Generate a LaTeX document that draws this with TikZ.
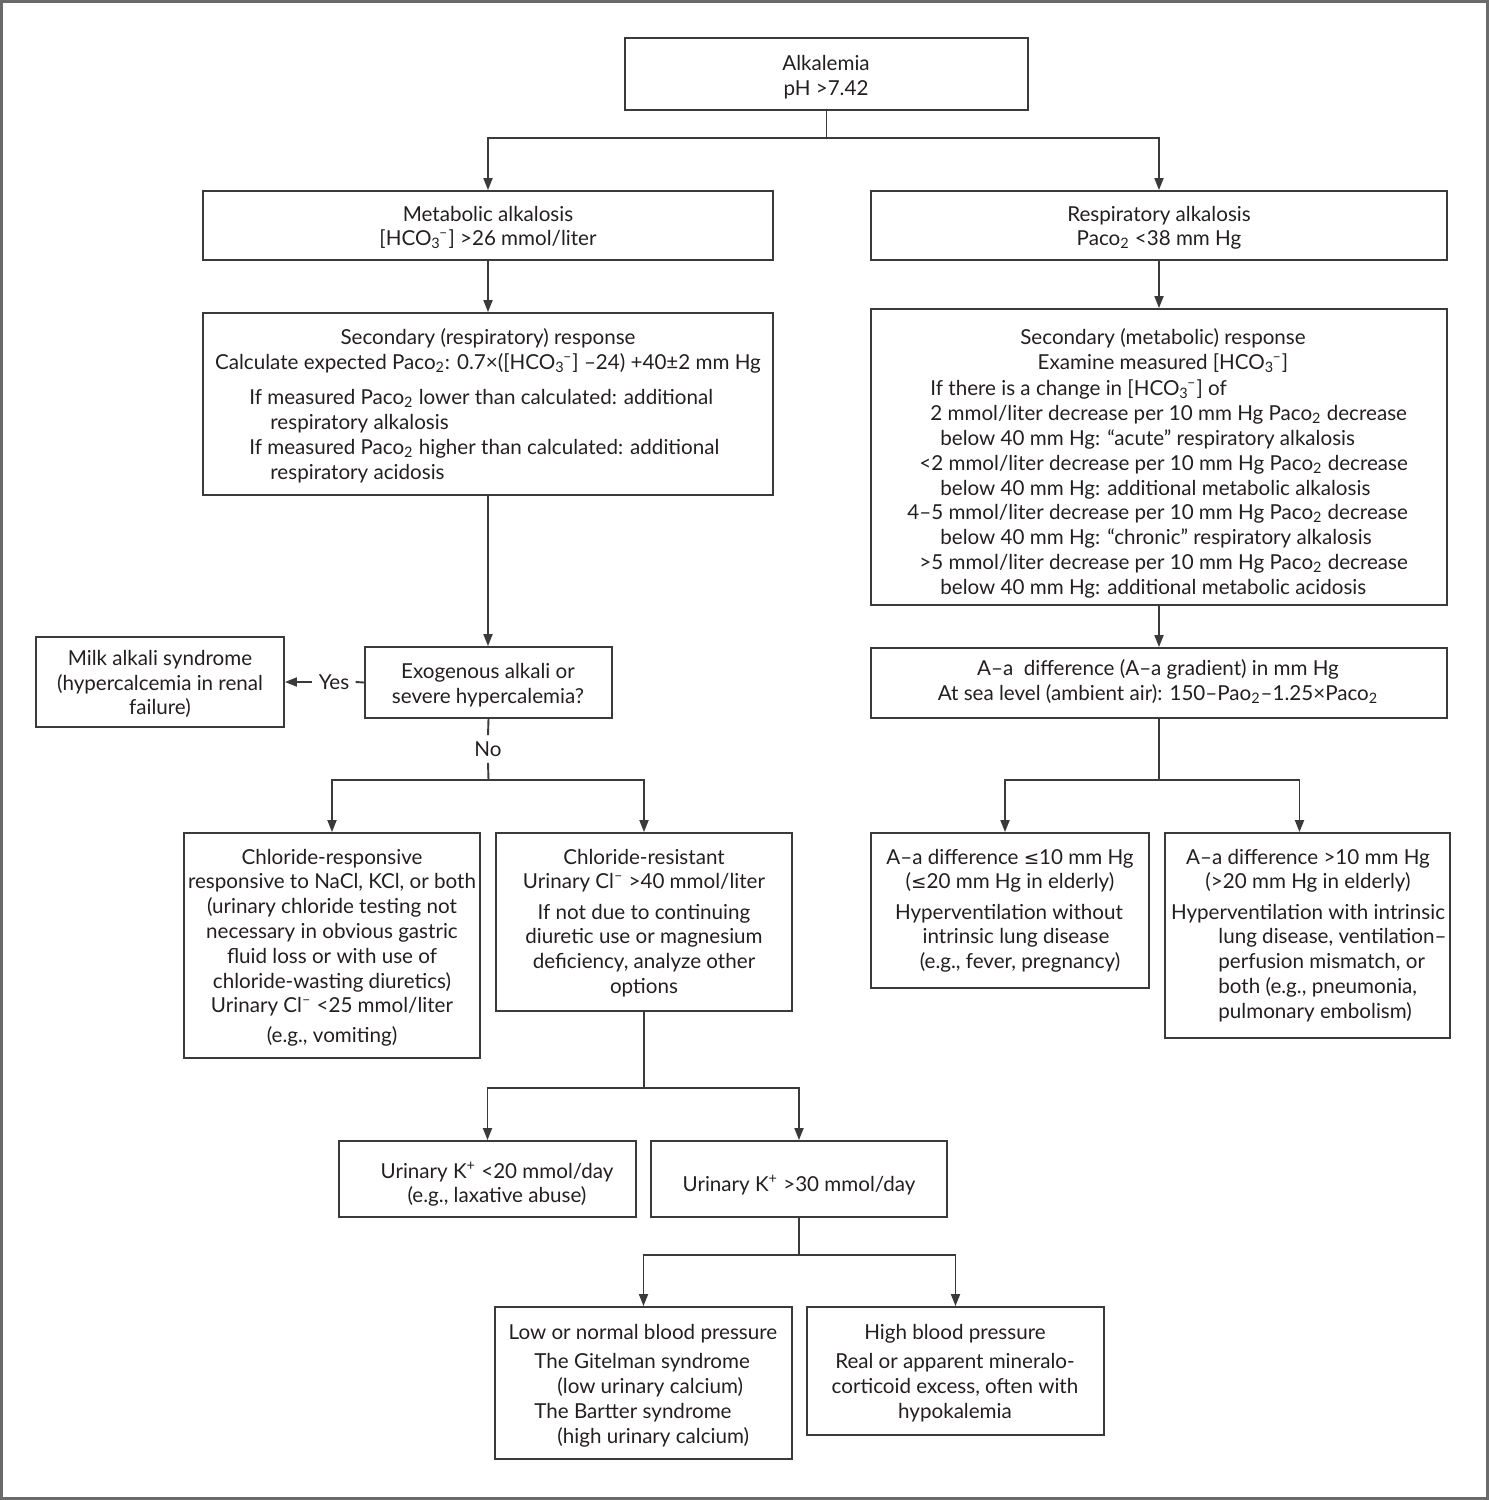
\documentclass[tikz,border=0pt]{standalone}
\usepackage{fontspec}
\setmainfont{Lato}
\newfontfamily\symf{DejaVu Sans}
\usetikzlibrary{fit,arrows.meta}
\definecolor{ln}{HTML}{3A3A3A}
\definecolor{tx}{HTML}{231F20}
\definecolor{frm}{HTML}{6A6A6A}
\newcommand\hco{HCO\textsubscript{3}\kern-0.08em\textsuperscript{–}}
\newcommand\pco{Paco\textsubscript{2}}
\newcommand\pao{Pao\textsubscript{2}}
\newcommand\lesym{{\symf\fontsize{9.2}{11}\selectfont ≤}}
\newcounter{tln}
\newcommand\ct[3]{\stepcounter{tln}\node[txt] (tl\arabic{tln}) at (#1,#2) {#3};}
\newcommand\lt[3]{\stepcounter{tln}\node[ltxt] (tl\arabic{tln}) at (#1,#2) {#3};}
\tikzset{
  box/.style={draw=ln, line width=0.95pt, inner sep=0pt},
  txt/.style={text=tx, inner sep=0pt, anchor=mid, yshift=-1.5pt, font=\fontsize{10.3}{12}\selectfont},
  ltxt/.style={txt, anchor=mid west},
  conn/.style={draw=ln, line width=0.95pt},
  arr/.style={conn, -{Triangle[length=6pt,width=4.5pt]}},
  lbl/.style={text=tx, inner sep=3pt, font=\fontsize{10.3}{12}\selectfont},
}
\begin{document}
\begin{tikzpicture}[x=0.5pt,y=-0.5pt]
\useasboundingbox (0,0) rectangle (1489,1500);
\draw[frm, line width=1.5pt] (1.5,1.5) rectangle (1487.5,1498.5);

% boxes
\node[box, fit={(625,38) (1028,110)}] (alk) {};
\node[box, fit={(203,191) (773,260)}] (met) {};
\node[box, fit={(871,191) (1447,260)}] (resp) {};
\node[box, fit={(203,313) (773,495)}] (secR) {};
\node[box, fit={(871,309) (1447,605)}] (secM) {};
\node[box, fit={(365,647) (612,718)}] (exo) {};
\node[box, fit={(36,637) (284,727)}] (milk) {};
\node[box, fit={(871,648) (1447,718)}] (aa) {};
\node[box, fit={(184,833) (480,1058)}] (clresp) {};
\node[box, fit={(496,833) (792,1011)}] (clres) {};
\node[box, fit={(871,833) (1149,988)}] (aale) {};
\node[box, fit={(1165,833) (1450,1038)}] (aagt) {};
\node[box, fit={(339,1141) (636,1217)}] (uklo) {};
\node[box, fit={(651,1141) (947,1217)}] (ukhi) {};
\node[box, fit={(495,1307) (792,1459)}] (lowbp) {};
\node[box, fit={(807,1307) (1104,1435)}] (highbp) {};

% texts
\ct{826}{62}{Alkalemia}
\ct{826}{87}{pH >7.42}
\ct{488}{213}{Metabolic alkalosis}
\ct{488}{237}{[\hco] >26 mmol/liter}
\ct{1159}{213}{Respiratory alkalosis}
\ct{1159}{237}{\pco{} <38 mm Hg}

\ct{488}{336}{Secondary (respiratory) response}
\ct{488}{361}{Calculate expected \pco: 0.7×([\hco] –24) +40±2 mm Hg}
\lt{249}{396}{If measured \pco{} lower than calculated: additional}
\lt{270}{421}{respiratory alkalosis}
\lt{249}{446}{If measured \pco{} higher than calculated: additional}
\lt{270}{471}{respiratory acidosis}

\ct{1163}{336}{Secondary (metabolic) response}
\ct{1163}{361}{Examine measured [\hco]}
\lt{930}{387}{If there is a change in [\hco] of}
\lt{930}{412}{2 mmol/liter decrease per 10 mm Hg \pco{} decrease}
\lt{940}{437}{below 40 mm Hg: “acute” respiratory alkalosis}
\lt{919}{462}{<2 mmol/liter decrease per 10 mm Hg \pco{} decrease}
\lt{940}{487}{below 40 mm Hg: additional metabolic alkalosis}
\lt{907}{511}{4–5 mmol/liter decrease per 10 mm Hg \pco{} decrease}
\lt{940}{536}{below 40 mm Hg: “chronic” respiratory alkalosis}
\lt{919}{561}{>5 mmol/liter decrease per 10 mm Hg \pco{} decrease}
\lt{940}{586}{below 40 mm Hg: additional metabolic acidosis}

\ct{488}{670}{Exogenous alkali or}
\ct{488}{695}{severe hypercalemia?}
\ct{160}{657}{Milk alkali syndrome}
\ct{160}{682}{(hypercalcemia in renal}
\ct{160}{706}{failure)}

\ct{1158}{667}{A–a\ \ difference (A–a gradient) in mm Hg}
\ct{1158}{692}{At sea level (ambient air): 150–\pao–1.25×\pco}

\ct{332}{856}{Chloride-responsive}
\ct{332}{880}{responsive to NaCl, KCl, or both}
\ct{332}{905}{(urinary chloride testing not}
\ct{332}{930}{necessary in obvious gastric}
\ct{332}{955}{fluid loss or with use of}
\ct{332}{980}{chloride-wasting diuretics)}
\ct{332}{1004}{Urinary Cl\textsuperscript{–} <25 mmol/liter}
\ct{332}{1034}{(e.g., vomiting)}

\ct{644}{856}{Chloride-resistant}
\ct{644}{880}{Urinary Cl\textsuperscript{–} >40 mmol/liter}
\ct{644}{911}{If not due to continuing}
\ct{644}{935}{diuretic use or magnesium}
\ct{644}{960}{deficiency, analyze other}
\ct{644}{985}{options}

\ct{1010}{856}{A–a difference \lesym10 mm Hg}
\ct{1010}{880}{(\lesym20 mm Hg in elderly)}
\ct{1009}{911}{Hyperventilation without}
\ct{1016}{935}{intrinsic lung disease}
\ct{1020}{960}{(e.g., fever, pregnancy)}

\ct{1308}{856}{A–a difference >10 mm Hg}
\ct{1308}{880}{(>20 mm Hg in elderly)}
\ct{1308}{911}{Hyperventilation with intrinsic}
\lt{1218}{935}{lung disease, ventilation–}
\lt{1218}{960}{perfusion mismatch, or}
\lt{1218}{985}{both (e.g., pneumonia,}
\lt{1218}{1010}{pulmonary embolism)}

\ct{497}{1170}{Urinary K\textsuperscript{+} <20 mmol/day}
\ct{497}{1194}{(e.g., laxative abuse)}
\ct{799}{1183}{Urinary K\textsuperscript{+} >30 mmol/day}

\ct{643}{1331}{Low or normal blood pressure}
\lt{534}{1360}{The Gitelman syndrome}
\lt{557}{1385}{(low urinary calcium)}
\lt{534}{1410}{The Bartter syndrome}
\lt{557}{1435}{(high urinary calcium)}

\ct{955}{1331}{High blood pressure}
\ct{955}{1360}{Real or apparent mineralo-}
\ct{955}{1385}{corticoid excess, often with}
\ct{955}{1410}{hypokalemia}

% labels
\node[lbl] (yes) at (334,682) {Yes};
\node[lbl] (no) at (488,749) {No};

% junctions
\coordinate (j1) at (826.5,138);
\coordinate (j2) at (488.5,780);
\coordinate (j3) at (644,1088);
\coordinate (j4) at (799,1255);
\coordinate (j5) at (1159,780);

% connectors
\draw[conn] (alk.south) -- (j1);
\draw[arr] (j1) -| (met.north);
\draw[arr] (j1) -| (resp.north);
\draw[arr] (met.south) -- (secR.north);
\draw[arr] (resp.south) -- (secM.north);
\draw[arr] (secR.south) -- (exo.north -| secR.south);
\draw[conn] (exo.west) -- (yes.east);
\draw[arr] (yes.west) -- (milk.east);
\draw[conn] (exo.south) -- (no.north);
\draw[conn] (no.south) -- (j2);
\draw[arr] (j2) -| (clresp.north);
\draw[arr] (j2) -| (clres.north);
\draw[conn] (clres.south) -- (j3);
\draw[arr] (j3) -| (uklo.north);
\draw[arr] (j3) -| (ukhi.north);
\draw[conn] (ukhi.south) -- (j4);
\draw[arr] (j4) -| (lowbp.north);
\draw[arr] (j4) -| (highbp.north);
\draw[arr] (secM.south) -- (aa.north -| secM.south);
\draw[conn] (aa.south) -- (j5);
\draw[arr] (j5) -| ([xshift=-2.5pt]aale.north);
\draw[arr] (j5) -| ([xshift=-4pt]aagt.north);
\end{tikzpicture}
\end{document}
